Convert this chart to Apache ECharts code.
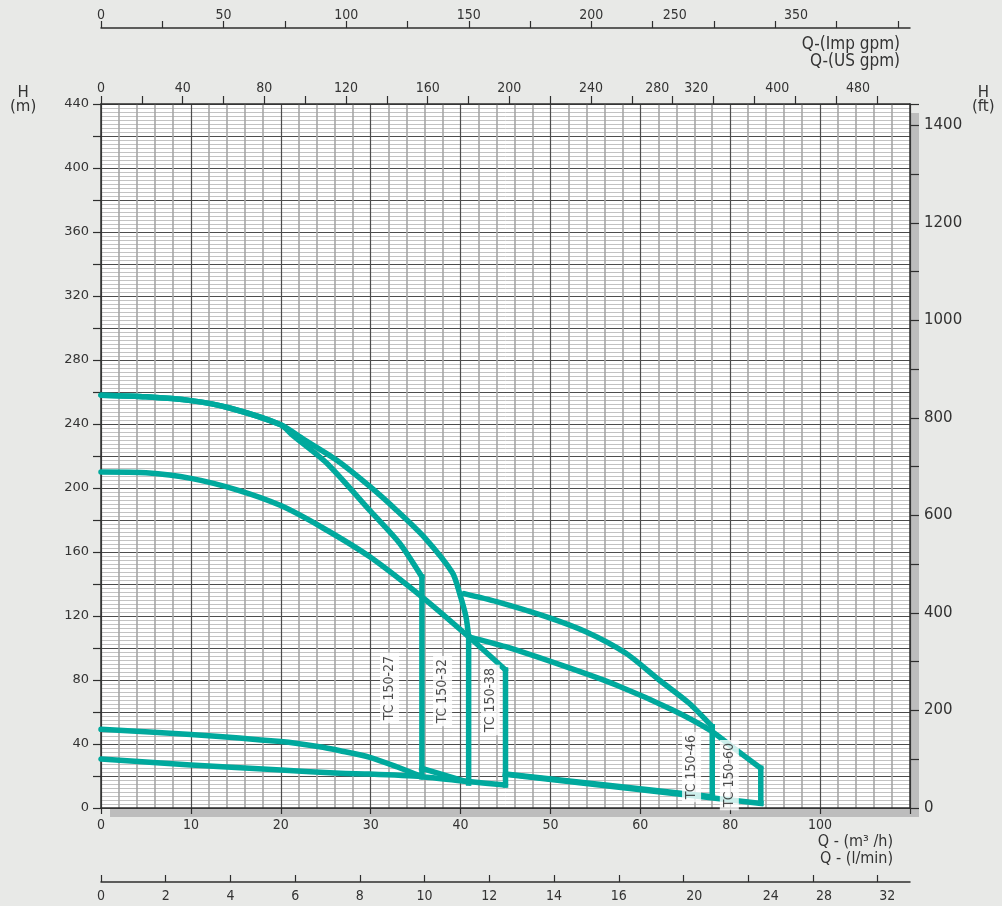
<!DOCTYPE html>
<html>
<head>
<meta charset="utf-8">
<script src="https://cdn.jsdelivr.net/npm/echarts@6/dist/echarts.min.js"></script>
<style>
  html, body { margin: 0; padding: 0; background: #e8e9e7; }
  #chart { width: 1002px; height: 906px; }
</style>
</head>
<body>
<div id="chart"></div>
<script>
// ---- Flow scale (grid units, heavy line every 10) and printed labels ----
const flowLabels = ['0', '10', '20', '30', '40', '50', '60', '80', '100', ''];

// Top scale: Imperial gallons per minute
const impTickValues = [0, 25, 50, 75, 100, 125, 150, 175, 200, 225, 250, 275, 300, 325];
const impLabelValues = [0, 50, 100, 150, 200, 234, 283.5];
const impLabelTexts = ['0', '50', '100', '150', '200', '250', '350'];

// Second top scale: US gallons per minute
const usTickValues = [0, 20, 40, 60, 80, 100, 120, 140, 160, 180, 200, 220, 240, 260, 280, 300, 320, 340, 360, 380];
const usLabelValues = [0, 40, 80, 120, 160, 200, 240, 272.5, 291.6, 331.2, 370.8];
const usLabelTexts = ['0', '40', '80', '120', '160', '200', '240', '280', '320', '400', '480'];

// Bottom scale: litres
const lsTickValues = [0, 2, 4, 6, 8, 10, 12, 14, 16, 18, 20, 22, 24];
const lsLabelValues = [0, 2, 4, 6, 8, 10, 12, 14, 16, 18.33, 20.7, 22.34, 24.3];
const lsLabelTexts = ['0', '2', '4', '6', '8', '10', '12', '14', '16', '20', '24', '28', '32'];

// ---- Pump curves: [flow, head m] ----
const headShared = [[0, 258], [5, 257], [10, 254.6], [14.3, 250], [20, 239.5]];
const tc27Curve = [[21.3, 233], [25.1, 215.6], [29.9, 186], [33.2, 165.6], [35.7, 144.4]];
const tc27Drop = [[35.7, 144.4], [35.7, 19.6]];
const tc32Curve = [[22.5, 230.6], [26.2, 217.5], [29.9, 201], [32.9, 186], [36, 169], [39.1, 147], [39.9, 134], [40.6, 119.6], [40.9, 107]];
const tc32Drop = [[40.9, 107], [40.9, 15.6]];
const tc38Curve = [[0, 210], [5, 209.5], [10, 206], [15.2, 198.7], [20, 189], [24.7, 175], [29.9, 157], [35.8, 131.5], [40.9, 107], [45, 86.3]];
const tc38Drop = [[45, 86.3], [45, 14.4]];
const tc46Curve = [[40.4, 134], [44, 129], [49.5, 119.6], [54, 110], [58.4, 96.7], [62.1, 80], [65.4, 65.6], [68, 50.8]];
const tc46Drop = [[68, 50.8], [68, 7]];
const tc60Curve = [[40.9, 107], [45, 100.8], [51.7, 88.3], [57.3, 76.9], [63.6, 61.3], [67.7, 48.8], [70.2, 38.3], [73.4, 24.8]];
const tc60Drop = [[73.4, 24.8], [73.4, 2.9]];
const minCurveA = [[0, 49.2], [10, 46], [20, 41.5], [24.3, 38.3], [26.6, 35.8], [29.9, 31.7], [32.9, 25.8], [35.7, 19.6]];
const minCurveB = [[0, 30.6], [10, 26.9], [20, 23.75], [26.6, 21.7], [29.9, 21.25], [35.7, 19.6], [40.9, 16.5], [45, 14.4]];
const tc32Bottom = [[35.7, 24.8], [40.9, 16]];
const tc46Bottom = [[45, 21.3], [68, 7]];
const tc60Bottom = [[45, 21], [73.4, 2.9]];

const modelNames = ['TC 150-27', 'TC 150-32', 'TC 150-38', 'TC 150-46', 'TC 150-60'];
const modelLabelAt = [[32.1, 75], [38, 73], [43.3, 67.5], [65.7, 25.6], [69.9, 20.6]];

// ---- unit conversions ----
const FLOW_MAX = 90;
const HEAD_MAX = 440;
const M3H_TO_IMP = 3.6662;
const M3H_TO_US = 4.4029;
const M3H_TO_LS = 1 / 3.6;
const M_TO_FT = 1 / 0.3048;

const TEAL = '#00a99d';
const COND = "'DejaVu Sans Condensed', 'Liberation Sans Narrow', sans-serif";
const SANS = "'DejaVu Sans', sans-serif";
const INK = '#2e2e2e';

function lookupText(values, texts) {
  return function (v) {
    let best = -1, bd = Infinity;
    values.forEach((x, i) => { const d = Math.abs(x - v); if (d < bd) { bd = d; best = i; } });
    return bd < 0.5 ? texts[best] : '';
  };
}

function line(data, smooth) {
  return {
    type: 'line',
    data: data,
    xAxisIndex: 0,
    yAxisIndex: 0,
    showSymbol: false,
    symbol: 'none',
    smooth: smooth ? 0.25 : false,
    z: 3,
    lineStyle: { color: TEAL, width: 5.5, join: 'round', cap: smooth ? 'round' : 'square' },
    silent: true,
    animation: false
  };
}

const chart = echarts.init(document.getElementById('chart'), null, { renderer: 'canvas' });

const option = {
  backgroundColor: '#e8e9e7',
  animation: false,
  grid: {
    left: 101, top: 104, width: 809, height: 704,
    show: true, backgroundColor: '#ffffff', borderWidth: 0,
    shadowColor: '#bdbdbd', shadowOffsetX: 9, shadowOffsetY: 9, shadowBlur: 0,
    containLabel: false
  },
  xAxis: [
    {
      type: 'value', position: 'bottom', min: 0, max: FLOW_MAX, interval: 10,
      axisLine: { show: true, onZero: false, lineStyle: { color: INK, width: 1.5 } },
      axisTick: { show: true, length: 6, lineStyle: { color: INK, width: 1.2 } },
      axisLabel: { margin: 10, fontSize: 14, color: '#333', fontFamily: COND,
        formatter: v => flowLabels[Math.round(v / 10)] || '' },
      splitLine: { show: true, lineStyle: { color: '#4d4d4d', width: 1.2 } },
      minorTick: { show: false, splitNumber: 5 },
      minorSplitLine: { show: true, lineStyle: { color: '#a6a6a6', width: 1.6 } }
    },
    {
      type: 'value', position: 'top', offset: 0, min: 0, max: FLOW_MAX * M3H_TO_US,
      axisLine: { show: true, onZero: false, lineStyle: { color: INK, width: 1.5 } },
      axisTick: { show: true, length: 8, customValues: usTickValues, lineStyle: { color: INK, width: 1.2 } },
      axisLabel: { margin: 9, fontSize: 14, color: '#333', fontFamily: COND,
        customValues: usLabelValues, formatter: lookupText(usLabelValues, usLabelTexts) },
      splitLine: { show: false }
    },
    {
      type: 'value', position: 'top', offset: 76, min: 0, max: FLOW_MAX * M3H_TO_IMP,
      axisLine: { show: true, onZero: false, lineStyle: { color: INK, width: 1.5 } },
      axisTick: { show: true, length: 7, customValues: impTickValues, lineStyle: { color: INK, width: 1.2 } },
      axisLabel: { margin: 6, fontSize: 14, color: '#333', fontFamily: COND,
        customValues: impLabelValues, formatter: lookupText(impLabelValues, impLabelTexts) },
      splitLine: { show: false }
    },
    {
      type: 'value', position: 'bottom', offset: 74, min: 0, max: FLOW_MAX * M3H_TO_LS,
      axisLine: { show: true, onZero: false, lineStyle: { color: INK, width: 1.5 } },
      axisTick: { show: true, inside: true, length: 7, customValues: lsTickValues, lineStyle: { color: INK, width: 1.2 } },
      axisLabel: { margin: 7, fontSize: 14, color: '#333', fontFamily: COND,
        customValues: lsLabelValues, formatter: lookupText(lsLabelValues, lsLabelTexts) },
      splitLine: { show: false }
    }
  ],
  yAxis: [
    {
      type: 'value', position: 'left', min: 0, max: HEAD_MAX, interval: 20,
      axisLine: { show: true, onZero: false, lineStyle: { color: INK, width: 1.5 } },
      axisTick: { show: true, length: 8, lineStyle: { color: INK, width: 1.2 } },
      axisLabel: { margin: 12, fontSize: 13, color: '#333', fontFamily: SANS,
        formatter: v => (v % 40 === 0 ? String(v) : '') },
      splitLine: { show: true, lineStyle: { color: '#4d4d4d', width: 1.2 } },
      minorTick: { show: false, splitNumber: 8 },
      minorSplitLine: { show: true, lineStyle: { color: '#c2c2c2', width: 1 } }
    },
    {
      type: 'value', position: 'right', min: 0, max: HEAD_MAX * M_TO_FT, interval: 100,
      axisLine: { show: true, onZero: false, lineStyle: { color: INK, width: 1.5 } },
      axisTick: { show: true, length: 9, lineStyle: { color: INK, width: 1.2 } },
      axisLabel: { margin: 14, fontSize: 15, color: '#333', fontFamily: SANS,
        formatter: v => (v % 200 === 0 ? String(v) : '') },
      splitLine: { show: false }
    }
  ],
  graphic: [
    { type: 'text', left: 10, top: 86, style: { text: 'H\n(m)', font: "15px 'DejaVu Sans'", fill: '#333', textAlign: 'center', lineHeight: 14 } },
    { type: 'text', left: 972, top: 86, style: { text: 'H\n(ft)', font: "15px 'DejaVu Sans'", fill: '#333', textAlign: 'center', lineHeight: 14 } },
    { type: 'text', right: 102, top: 36, style: { text: 'Q-(Imp gpm)', font: "17px 'DejaVu Sans Condensed'", fill: '#333', textAlign: 'right' } },
    { type: 'text', right: 102, top: 53, style: { text: 'Q-(US gpm)', font: "17px 'DejaVu Sans Condensed'", fill: '#333', textAlign: 'right' } },
    { type: 'text', right: 109, top: 834, style: { text: 'Q - (m³ /h)', font: "16px 'DejaVu Sans Condensed'", fill: '#333', textAlign: 'right' } },
    { type: 'text', right: 109, top: 851, style: { text: 'Q - (l/min)', font: "16px 'DejaVu Sans Condensed'", fill: '#333', textAlign: 'right' } }
  ],
  series: [
    line(headShared.concat(tc27Curve), true), line(tc27Drop, false),
    line(headShared.concat(tc32Curve), true), line(tc32Drop, false),
    line(tc38Curve, true), line(tc38Drop, false),
    line(tc46Curve, true), line(tc46Drop, false),
    line(tc60Curve, true), line(tc60Drop, false),
    line(minCurveA, true),
    line(minCurveB, true),
    line(tc32Bottom, false),
    line(tc46Bottom, false),
    line(tc60Bottom, false),
    {
      type: 'scatter',
      xAxisIndex: 0, yAxisIndex: 0,
      symbolSize: 0,
      z: 10,
      silent: true,
      data: modelNames.map((n, i) => ({ value: modelLabelAt[i], name: n })),
      label: {
        show: true, position: 'inside', rotate: 90,
        formatter: p => p.name,
        fontFamily: COND, fontSize: 14, color: '#222',
        backgroundColor: '#ffffff', padding: [3, 3, 2, 3]
      }
    }
  ]
};

chart.setOption(option);
</script>
</body>
</html>
